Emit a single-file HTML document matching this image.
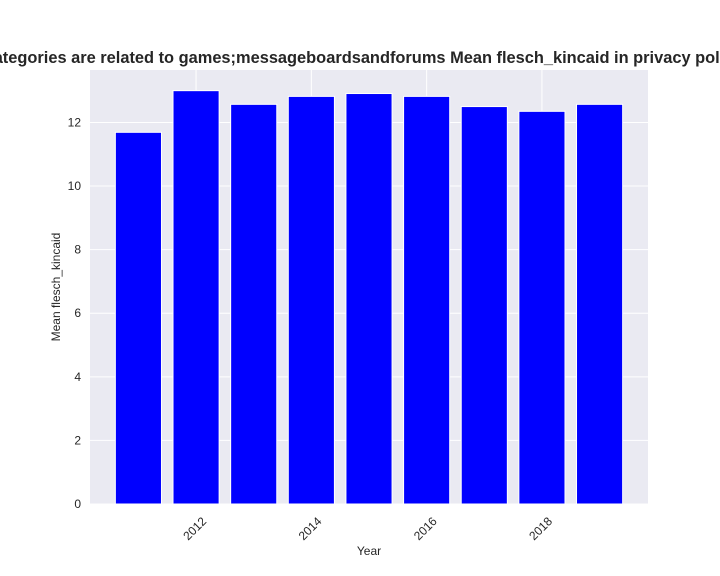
<!DOCTYPE html>
<html><head><meta charset="utf-8"><style>
body{margin:0;background:#fff;width:720px;height:576px;overflow:hidden}
svg{display:block;font-family:"Liberation Sans","DejaVu Sans",sans-serif}
</style></head><body>
<svg id="chart" width="720" height="576"></svg>
<script>
const years=[2011,2012,2013,2014,2015,2016,2017,2018,2019];
const values=[11.69,13.0,12.57,12.82,12.91,12.82,12.5,12.35,12.57];
const xTicks=[2012,2014,2016,2018];
const yTicks=[0,2,4,6,8,10,12];
const NS="http://www.w3.org/2000/svg";
const svg=document.getElementById('chart');
const L=90,R=648,T=70,B=504;
const xmin=2010.16,xmax=2019.84,ymax=13.65;
const x=v=>L+(v-xmin)/(xmax-xmin)*(R-L);
const y=v=>B-v/ymax*(B-T);
function mk(t,a,p){const e=document.createElementNS(NS,t);for(const k in a)e.setAttribute(k,a[k]);(p||svg).appendChild(e);return e;}
const bg=mk('rect',{x:L,y:T,width:R-L,height:B-T,fill:'#eaeaf2'});


yTicks.forEach(t=>{
 const g=mk('line',{x1:L,x2:R,y1:y(t),y2:y(t),stroke:'#fff','stroke-width':1});
 
 
 const l=mk('text',{x:L-9,y:y(t)+4,'text-anchor':'end','font-size':12,fill:'#262626'});
 l.textContent=t;
 
 
});
xTicks.forEach(t=>{
 const g=mk('line',{x1:x(t),x2:x(t),y1:T,y2:B,stroke:'#fff','stroke-width':1});
 
 
 const px=x(t)+11,py=B+18;
 const l=mk('text',{x:px,y:py,'text-anchor':'end','font-size':12,fill:'#262626',transform:`rotate(-45 ${px} ${py})`});
 l.textContent=t;
 
 
});
years.forEach((yr,i)=>{
 const w=x(yr+0.4)-x(yr-0.4);
 const b=mk('rect',{x:x(yr-0.4),y:y(values[i]),width:w,height:B-y(values[i]),fill:'#0000ff',stroke:'#fff','stroke-width':1});
 
 
});
const xt=mk('text',{x:(L+R)/2,y:555,'text-anchor':'middle','font-size':12,fill:'#262626'});
xt.textContent='Year';


const yt=mk('text',{x:60,y:(T+B)/2,'text-anchor':'middle','font-size':12,fill:'#262626',transform:`rotate(-90 60 ${(T+B)/2})`});
yt.textContent='Mean flesch_kincaid';


const ti=mk('text',{x:(L+R)/2,y:63,'text-anchor':'middle','font-size':16.4,'font-weight':'bold',fill:'#262626'});
ti.textContent='Categories are related to games;messageboardsandforums Mean flesch_kincaid in privacy policies';


</script>
</body></html>
